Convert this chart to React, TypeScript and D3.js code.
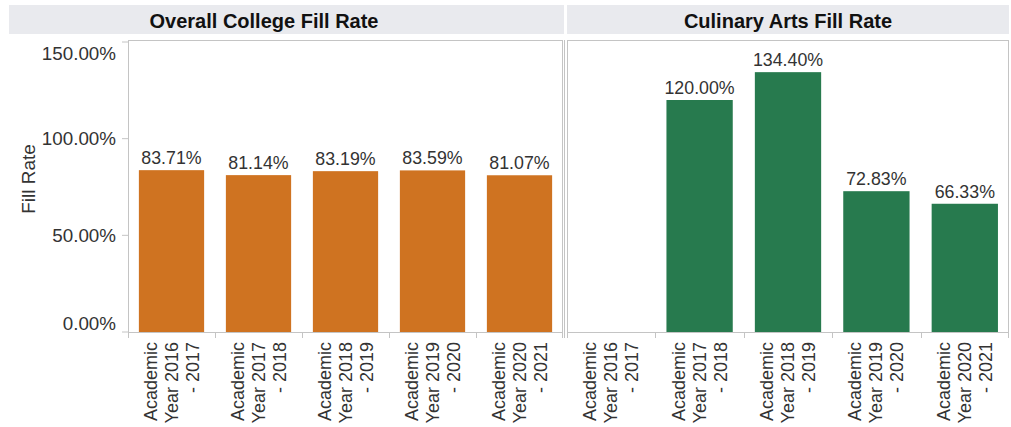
import React from "react";
import * as d3 from "d3";

const categories = [
  "Academic Year 2016 - 2017",
  "Academic Year 2017 - 2018",
  "Academic Year 2018 - 2019",
  "Academic Year 2019 - 2020",
  "Academic Year 2020 - 2021",
];
const overallValues: (number | null)[] = [83.71, 81.14, 83.19, 83.59, 81.07];
const culinaryValues: (number | null)[] = [null, 120.0, 134.4, 72.83, 66.33];
const yTicks = [0, 50, 100, 150];
const panelTitles = ["Overall College Fill Rate", "Culinary Arts Fill Rate"];
const yTitle = "Fill Rate";

const W = 1011;
const H = 427;
const FONT = "'Liberation Sans', Arial, sans-serif";
const TOP = 40;
const BOTTOM = 332;
const panels = [
  { x0: 128, x1: 563, values: overallValues, color: "#cf7321", title: panelTitles[0], hx0: 9, hx1: 564, tcx: 264 },
  { x0: 567, x1: 1009, values: culinaryValues, color: "#277a4e", title: panelTitles[1], hx0: 567, hx1: 1009, tcx: 788 },
];

function splitLabel(s: string): string[] {
  const m = s.match(/^(\S+)\s+(\S+\s+\S+)\s+(-\s+\S+)$/);
  return m ? [m[1], m[2], m[3]] : [s];
}

export default function App() {
  const y = d3.scaleLinear().domain([0, 150]).range([BOTTOM, TOP + 2]);
  const fmt = (v: number) => v.toFixed(2) + "%";
  const axisColor = "#c4c4c4";

  return (
    <svg
      width={W}
      height={H}
      style={{ position: "fixed", left: 0, top: 0, background: "#fff" }}
      fontFamily={FONT}
    >
      <rect x={0} y={0} width={W} height={H} fill="#fff" />
      {/* y axis title */}
      <text
        transform={`translate(28, 179) rotate(-90)`}
        textAnchor="middle"
        dominantBaseline="central"
        fontSize={19}
        fill="#333"
      >
        {yTitle}
      </text>
      {/* y ticks */}
      {yTicks.map((t) => {
        const ty = y(t);
        const ly = Math.min(Math.max(ty, TOP + 13), BOTTOM - 9);
        return (
          <g key={t}>
            <line x1={122} x2={128} y1={ty} y2={ty} stroke={axisColor} />
            <text x={116} y={ly} textAnchor="end" dominantBaseline="central" fontSize={18.8} fill="#333">
              {fmt(t)}
            </text>
          </g>
        );
      })}
      {panels.map((p, pi) => {
        const x = d3
          .scaleBand<string>()
          .domain(categories)
          .range([p.x0, p.x1])
          .paddingInner(0.25)
          .paddingOuter(0.125);
        const step = x.step();
        return (
          <g key={pi}>
            {/* header */}
            <rect x={p.hx0} y={5} width={p.hx1 - p.hx0} height={29} fill="#e9eaee" />
            <text x={p.tcx} y={28} textAnchor="middle" fontSize={20} fontWeight="bold" fill="#111">
              {p.title}
            </text>
            {/* panel border */}
            <rect x={p.x0 + 0.5} y={TOP + 0.5} width={p.x1 - p.x0 - 1} height={BOTTOM - TOP} fill="none" stroke={axisColor} />
            {pi === 0 && <line x1={p.x1 + 1.5} x2={p.x1 + 1.5} y1={TOP} y2={BOTTOM + 6} stroke={axisColor} />}
            {/* bars */}
            {categories.map((c, i) => {
              const v = p.values[i];
              if (v == null) return null;
              const bx = x(c)!;
              return (
                <g key={c}>
                  <rect x={bx} y={y(v)} width={x.bandwidth()} height={BOTTOM - y(v)} fill={p.color} />
                  <text x={bx + x.bandwidth() / 2} y={y(v) - 6} textAnchor="middle" fontSize={17.8} fill="#333">
                    {fmt(v)}
                  </text>
                </g>
              );
            })}
            {/* x axis line */}
            <line x1={p.x0} x2={p.x1} y1={BOTTOM + 0.5} y2={BOTTOM + 0.5} stroke={axisColor} />
            {/* x ticks at band boundaries */}
            {d3.range(categories.length + 1).map((k) => {
              const tx = Math.round(p.x0 + k * step) + (k === categories.length ? -0.5 : 0.5);
              return <line key={k} x1={tx} x2={tx} y1={BOTTOM} y2={BOTTOM + 6} stroke={axisColor} />;
            })}
            {/* x labels */}
            {categories.map((c) => {
              const cx = x(c)! + x.bandwidth() / 2;
              const lines = splitLabel(c);
              return (
                <text
                  key={c}
                  transform={`translate(${cx}, 342) rotate(-90)`}
                  textAnchor="end"
                  fontSize={18}
                  fill="#333"
                >
                  {lines.map((l, li) => (
                    <tspan key={li} x={0} y={(li - 1) * 21} dominantBaseline="central">
                      {l}
                    </tspan>
                  ))}
                </text>
              );
            })}
          </g>
        );
      })}
    </svg>
  );
}
